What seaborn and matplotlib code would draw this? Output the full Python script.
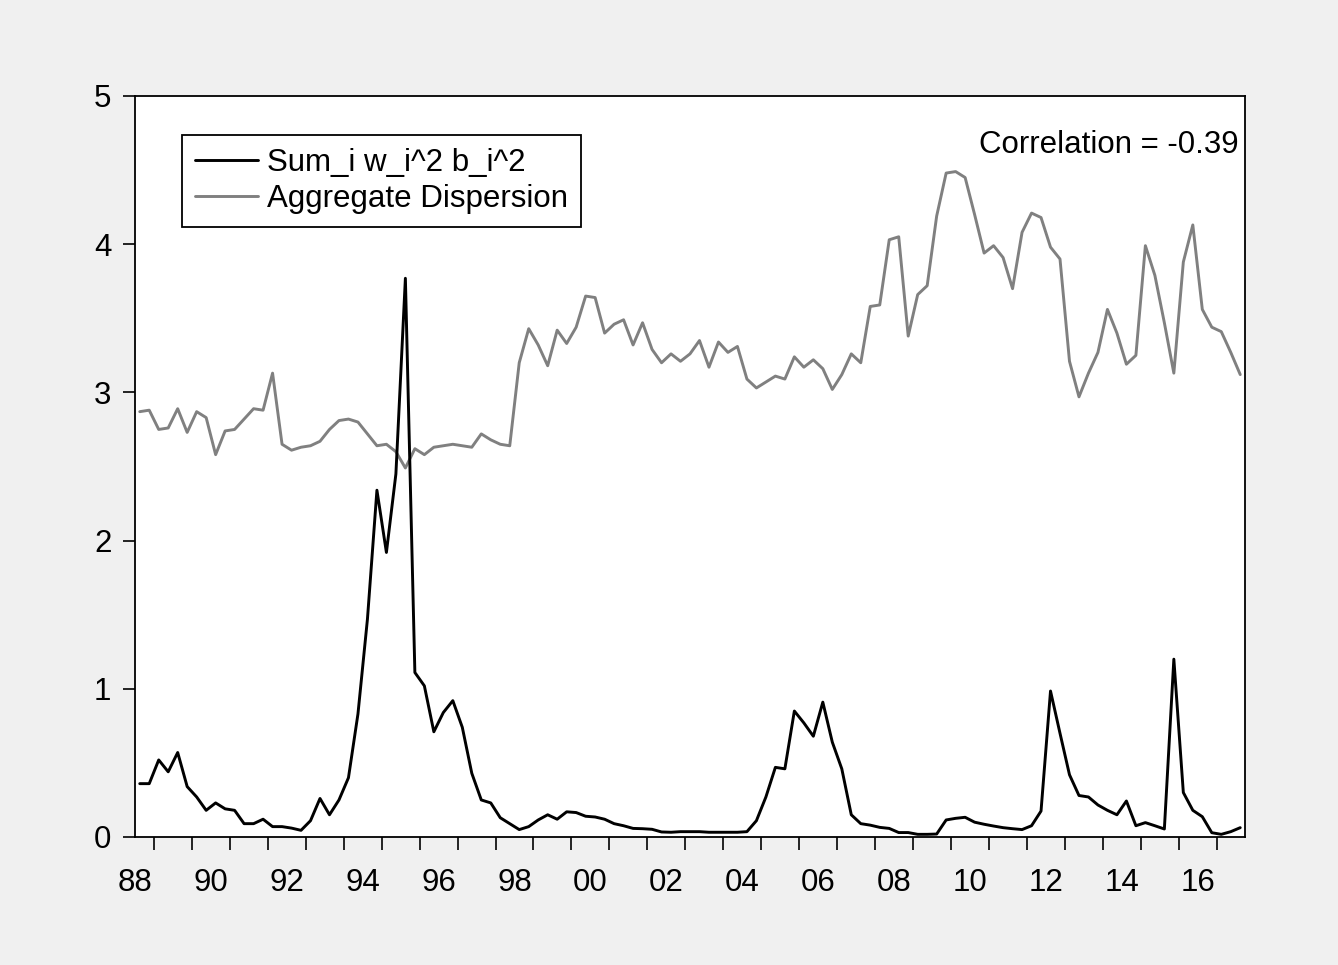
import numpy as np
import pandas as pd
import matplotlib
matplotlib.use("Agg")
import matplotlib.pyplot as plt
import seaborn as sns
from matplotlib.ticker import FixedLocator

# ---------------- data (quarterly, 1988Q3 - 2017Q3) ----------------
quarters = pd.period_range("1988Q3", "2017Q3", freq="Q")

sum_wb = [
    0.36, 0.36, 0.52, 0.44, 0.57, 0.34, 0.27, 0.18, 0.23, 0.19,
    0.18, 0.09, 0.09, 0.12, 0.07, 0.07, 0.06, 0.045, 0.11, 0.26,
    0.15, 0.25, 0.40, 0.83, 1.47, 2.34, 1.92, 2.45, 3.77, 1.11,
    1.02, 0.71, 0.84, 0.92, 0.74, 0.43, 0.25, 0.23, 0.13, 0.09,
    0.05, 0.07, 0.115, 0.15, 0.12, 0.17, 0.165, 0.14, 0.135, 0.12,
    0.09, 0.076, 0.058, 0.056, 0.052, 0.034, 0.032, 0.036, 0.036, 0.036,
    0.032, 0.032, 0.032, 0.032, 0.036, 0.11, 0.27, 0.47, 0.46, 0.85,
    0.77, 0.68, 0.91, 0.64, 0.46, 0.15, 0.09, 0.08, 0.065, 0.058,
    0.03, 0.03, 0.018, 0.018, 0.02, 0.115, 0.126, 0.133, 0.10, 0.086,
    0.074, 0.063, 0.056, 0.05, 0.076, 0.175, 0.985, 0.70, 0.42, 0.28,
    0.27, 0.216, 0.18, 0.15, 0.243, 0.076, 0.097, 0.076, 0.054, 1.20,
    0.30, 0.18, 0.137, 0.029, 0.018, 0.036, 0.063,
]

agg_disp = [
    2.87, 2.88, 2.75, 2.76, 2.89, 2.73, 2.87, 2.83, 2.58, 2.74,
    2.75, 2.82, 2.89, 2.88, 3.13, 2.65, 2.61, 2.63, 2.64, 2.67,
    2.75, 2.81, 2.82, 2.80, 2.72, 2.64, 2.65, 2.60, 2.49, 2.62,
    2.58, 2.63, 2.64, 2.65, 2.64, 2.63, 2.72, 2.68, 2.65, 2.64,
    3.20, 3.43, 3.32, 3.18, 3.42, 3.33, 3.44, 3.65, 3.64, 3.40,
    3.46, 3.49, 3.32, 3.47, 3.29, 3.20, 3.26, 3.21, 3.26, 3.35,
    3.17, 3.34, 3.27, 3.31, 3.09, 3.03, 3.07, 3.11, 3.09, 3.24,
    3.17, 3.22, 3.16, 3.02, 3.12, 3.26, 3.20, 3.58, 3.59, 4.03,
    4.05, 3.38, 3.66, 3.72, 4.19, 4.48, 4.49, 4.45, 4.20, 3.94,
    3.99, 3.91, 3.70, 4.08, 4.21, 4.18, 3.98, 3.90, 3.21, 2.97,
    3.13, 3.27, 3.56, 3.40, 3.19, 3.25, 3.99, 3.79, 3.47, 3.13,
    3.88, 4.13, 3.56, 3.44, 3.41, 3.27, 3.12,
]

label_years = [1988, 1990, 1992, 1994, 1996, 1998, 2000, 2002,
               2004, 2006, 2008, 2010, 2012, 2014, 2016]
year_labels = ["88", "90", "92", "94", "96", "98", "00", "02",
               "04", "06", "08", "10", "12", "14", "16"]
y_ticks = [0, 1, 2, 3, 4, 5]
series_names = ["Sum_i w_i^2 b_i^2", "Aggregate Dispersion"]
corr_text = "Correlation = -0.39"

# ---------------- styling ----------------
sns.set_theme(style="white")
plt.rcParams["font.family"] = ["Liberation Sans", "DejaVu Sans"]
FS = 22.5

t = np.asarray(quarters.year) + (np.asarray(quarters.quarter) - 1) / 4 + 0.125
df = pd.DataFrame({"t": t, "sum": sum_wb, "disp": agg_disp})

W, H = 1338, 965
fig = plt.figure(figsize=(W / 100, H / 100), dpi=100, facecolor="#f0f0f0")
ax = fig.add_axes([135 / W, 1 - 837 / H, 1110 / W, 741 / H])
ax.set_facecolor("white")

sns.lineplot(data=df, x="t", y="disp", color="#808080", linewidth=2.1,
             label=series_names[1], ax=ax, zorder=2)
sns.lineplot(data=df, x="t", y="sum", color="black", linewidth=2.1,
             label=series_names[0], ax=ax, zorder=3)

ax.set_xlim(1988.5, 2017.75)
ax.set_ylim(0, 5)
ax.set_xlabel("")
ax.set_ylabel("")

for s in ax.spines.values():
    s.set_visible(True)
    s.set_color("black")
    s.set_linewidth(1.3)

ax.xaxis.set_major_locator(FixedLocator([y + 0.5 for y in label_years]))
ax.set_xticklabels(year_labels)
ax.xaxis.set_minor_locator(FixedLocator(list(range(1989, 2018))))
ax.set_yticks(y_ticks)
ax.set_yticklabels([str(v) for v in y_ticks])

ax.tick_params(axis="x", which="major", bottom=True, length=0, pad=22,
               labelsize=FS, labelcolor="black")
ax.tick_params(axis="x", which="minor", bottom=True, length=9, width=1.2,
               direction="out", color="black")
ax.tick_params(axis="y", which="major", left=True, length=9, width=1.2,
               direction="out", color="black", labelsize=FS, pad=8,
               labelcolor="black")
ax.grid(False)

# legend
handles, labels = ax.get_legend_handles_labels()
order = [labels.index(series_names[0]), labels.index(series_names[1])]
leg = ax.legend([handles[i] for i in order], [labels[i] for i in order],
                loc="upper left", bbox_to_anchor=(182 / W, 1 - 135 / H),
                bbox_transform=fig.transFigure, borderaxespad=0,
                frameon=True, fancybox=False, framealpha=1,
                edgecolor="black", facecolor="white", fontsize=FS,
                handlelength=2.0, handletextpad=0.3, labelspacing=0.18,
                borderpad=0.42)
leg.get_frame().set_linewidth(1.3)
for txt in leg.get_texts():
    txt.set_color("black")

ax.text(0.9946, 4.67, corr_text, transform=ax.get_yaxis_transform(),
        ha="right", va="center", fontsize=FS, color="black")

fig.savefig("out.png", dpi=100, facecolor=fig.get_facecolor())
